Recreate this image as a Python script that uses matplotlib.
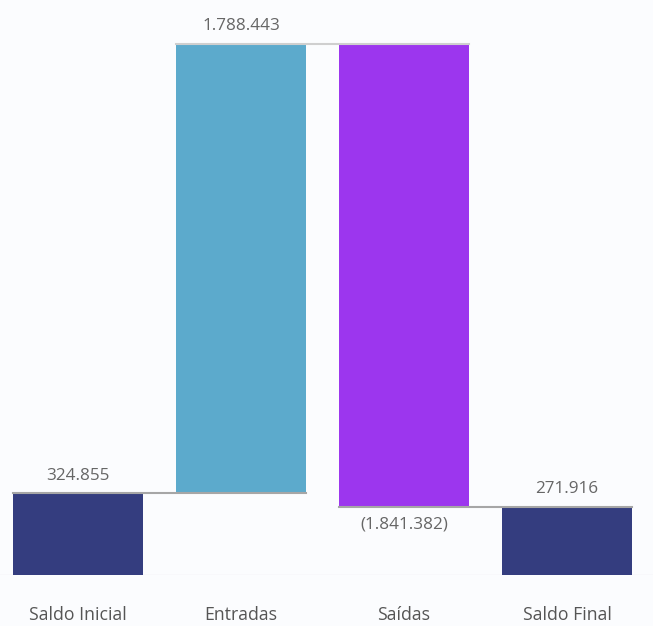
import matplotlib.pyplot as plt

categories = ['Saldo Inicial', 'Entradas', 'Saídas', 'Saldo Final']
values = [324855, 1788443, -1841382, 271916]
labels = ['324.855', '1.788.443', '(1.841.382)', '271.916']
colors = ['#343d7f', '#5caacc', '#9c36ee', '#343d7f']

plt.rcParams['font.family'] = ['Open Sans', 'DejaVu Sans']

# waterfall bottoms / tops
starts = []
ends = []
running = 0
for i, v in enumerate(values):
    if i == len(values) - 1:
        starts.append(0)
        ends.append(v)
    elif i == 0:
        starts.append(0)
        ends.append(v)
        running = v
    else:
        starts.append(running)
        running += v
        ends.append(running)

fig = plt.figure(figsize=(6.53, 6.26), dpi=100)
fig.patch.set_facecolor('#fbfcfe')
ax = fig.add_axes([0, 1 - 575 / 626, 1, 575 / 626])
ax.set_facecolor('#fbfcfe')

x = range(len(categories))
heights = [e - s for s, e in zip(starts, ends)]
ax.bar(x, heights, bottom=starts, width=0.8, color=colors, zorder=2)

# connector lines
for i in range(len(values) - 1):
    lvl = ends[i]
    c = '#cfcfcf' if i == 1 else '#a6a6a6'
    ax.plot([i - 0.4, i + 1.4], [lvl, lvl], color=c, lw=1.5, zorder=3)

# value labels
for i, (s, e) in enumerate(zip(starts, ends)):
    if values[i] >= 0:
        ax.annotate(labels[i], (i, e), xytext=(0, 7), textcoords='offset points',
                    ha='center', va='bottom', fontsize=12.3, color='#666666')
    else:
        ax.annotate(labels[i], (i, e), xytext=(0, -7), textcoords='offset points',
                    ha='center', va='top', fontsize=12.3, color='#666666')

ax.axhline(0, color='#ececf0', lw=1, zorder=1)
ax.set_xlim(-78 / 163, (653 - 78) / 163)
ax.set_ylim(0, 575 * 3978)
ax.set_xticks(list(x))
ax.set_xticklabels(categories, fontsize=12.7, color='#555555')
ax.tick_params(axis='x', length=0, pad=22)
ax.set_yticks([])
for sp in ax.spines.values():
    sp.set_visible(False)

fig.savefig('out.png', dpi=100, facecolor=fig.get_facecolor())
